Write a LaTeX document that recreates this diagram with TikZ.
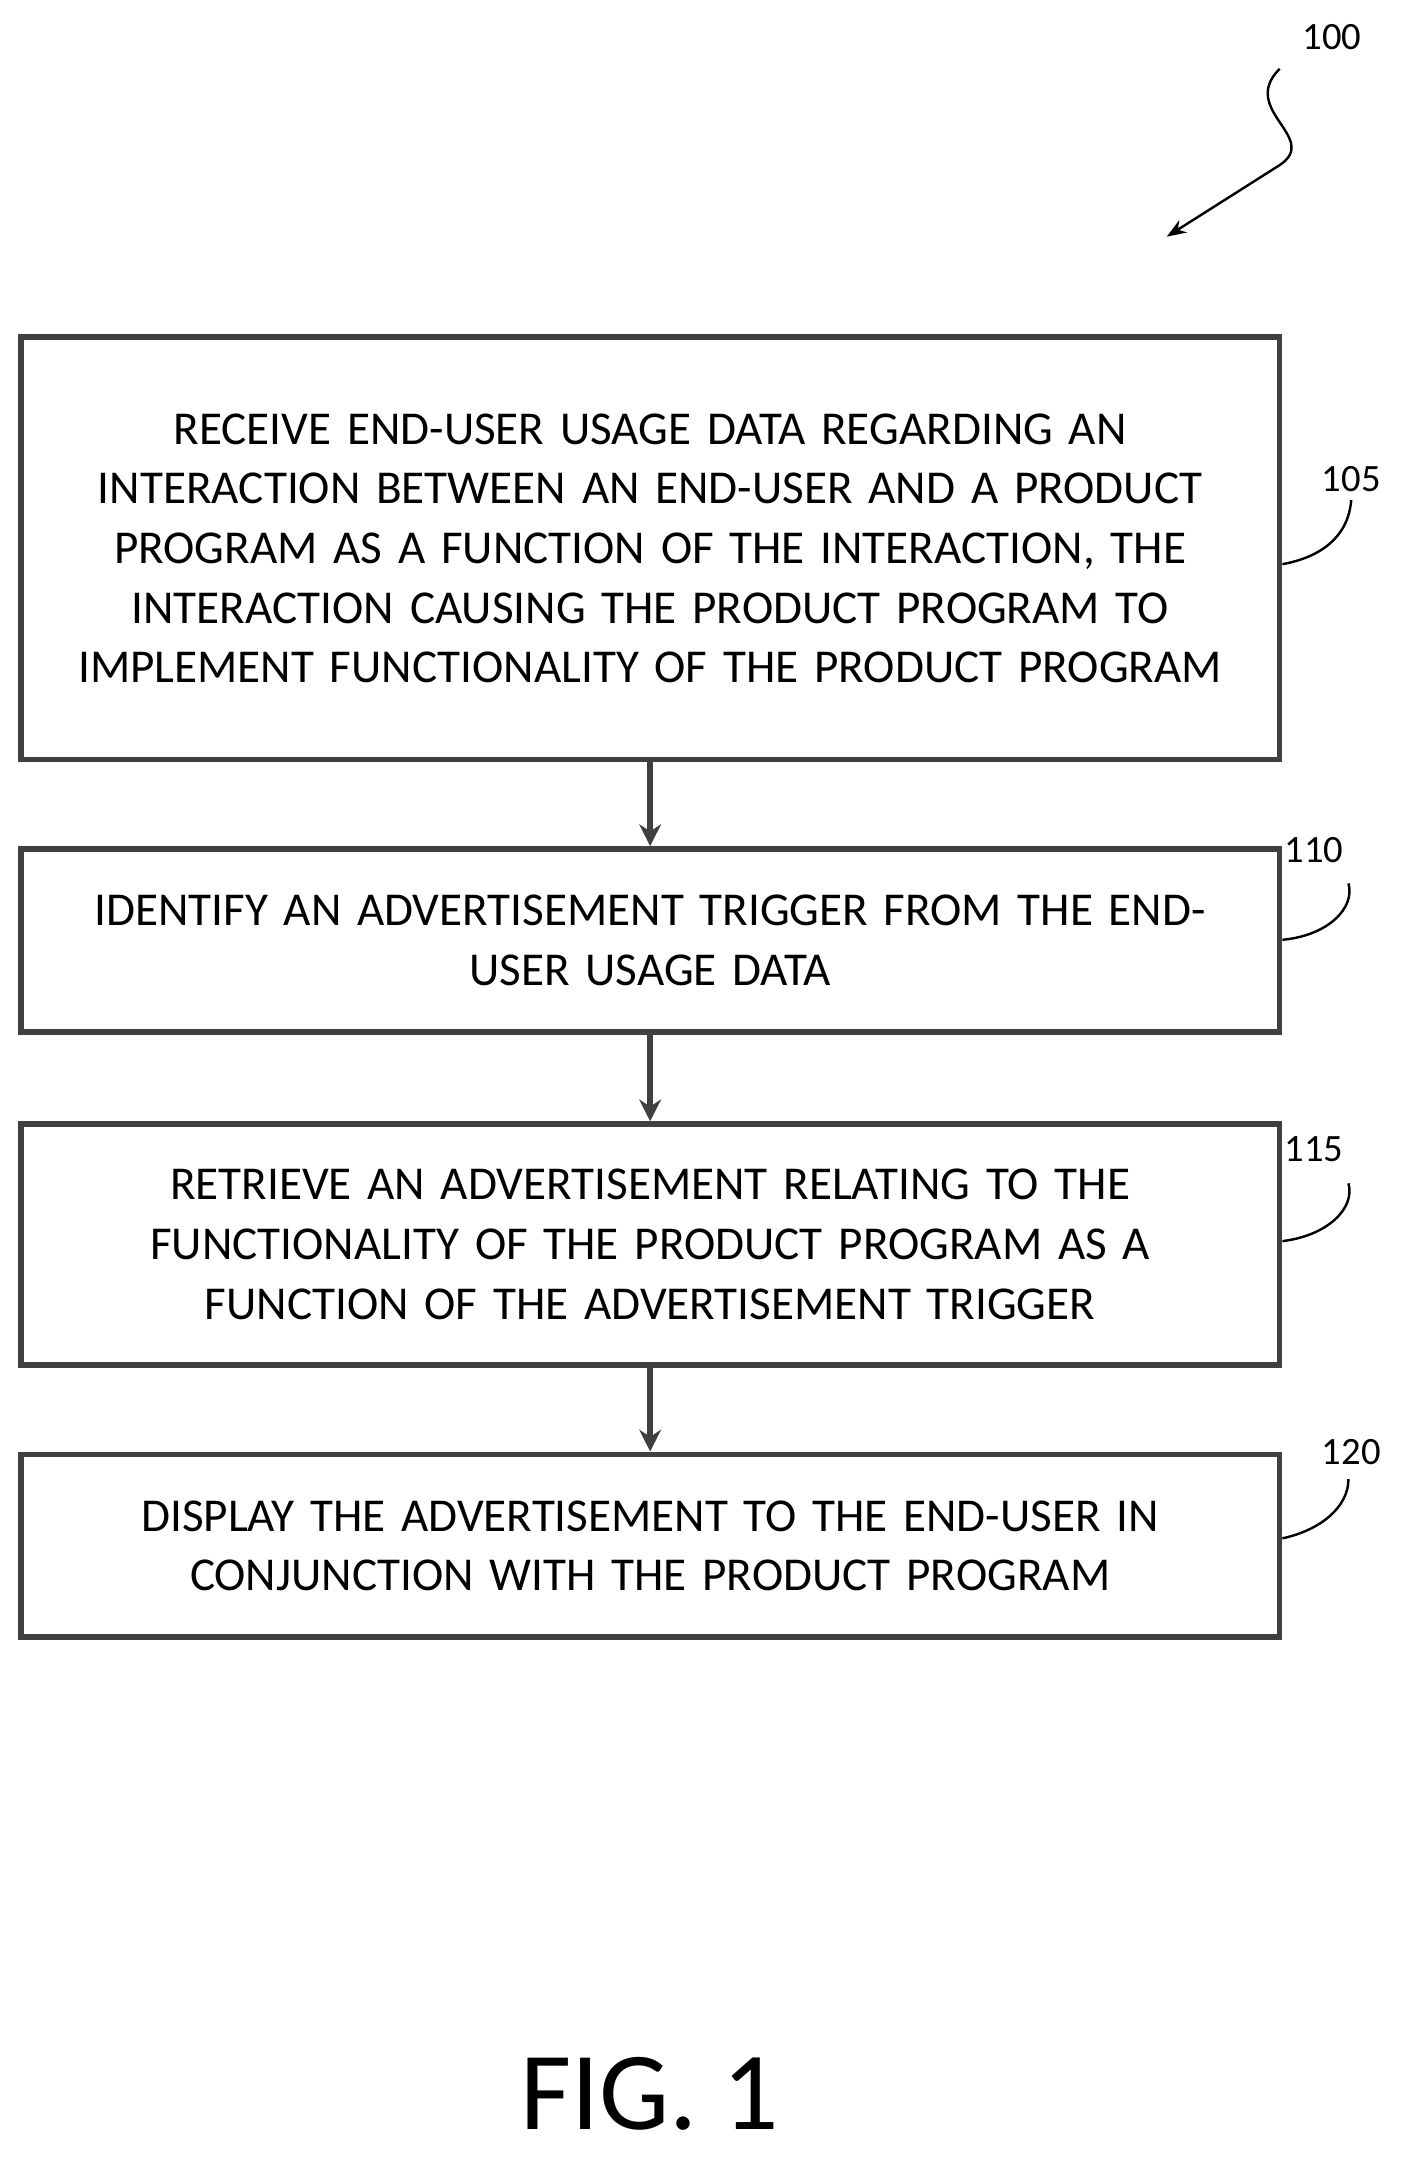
\documentclass[tikz,border=0pt]{standalone}
\usepackage{fontspec}
\setmainfont{Carlito}
\usetikzlibrary{arrows.meta,decorations.pathmorphing}
\begin{document}
\begin{tikzpicture}[x=0.02cm,y=-0.02cm,
  box/.style={draw=black!75,line width=2.4pt,inner sep=0pt,align=center,text width=17.9cm,minimum width=18.3cm,font=\fontsize{19.5}{24.7}\selectfont},
  lbl/.style={font=\fontsize{16}{18}\selectfont},
  arr/.style={-{Stealth[length=9pt,width=9pt]},line width=2.4pt,draw=black!75},
  lead/.style={line width=1pt}]
\useasboundingbox (0,0) rectangle (1024,1572);
\node[box,minimum height=6.14cm] (b1) at (472.5,398.5) {RECEIVE END-USER USAGE DATA REGARDING AN\\INTERACTION BETWEEN AN END-USER AND A PRODUCT\\PROGRAM AS A FUNCTION OF THE INTERACTION, THE\\INTERACTION CAUSING THE PRODUCT PROGRAM TO\\IMPLEMENT FUNCTIONALITY OF THE PRODUCT PROGRAM};
\node[box,minimum height=2.66cm] (b2) at (472.5,683.5) {IDENTIFY AN ADVERTISEMENT TRIGGER FROM THE END-\\USER USAGE DATA};
\node[box,minimum height=3.5cm] (b3) at (472.5,904.5) {RETRIEVE AN ADVERTISEMENT RELATING TO THE\\FUNCTIONALITY OF THE PRODUCT PROGRAM AS A\\FUNCTION OF THE ADVERTISEMENT TRIGGER};
\node[box,minimum height=2.66cm] (b4) at (472.5,1123.5) {DISPLAY THE ADVERTISEMENT TO THE END-USER IN\\CONJUNCTION WITH THE PRODUCT PROGRAM};
\draw[arr] (b1.south) -- (b2.north);
\draw[arr] (b2.south) -- (b3.north);
\draw[arr] (b3.south) -- (b4.north);
\node[lbl] (l100) at (968,27) {100};
\node[lbl] (l105) at (982,348) {105};
\node[lbl] (l110) at (955,618) {110};
\node[lbl] (l115) at (955,835) {115};
\node[lbl] (l120) at (982,1055) {120};
\coordinate (a100) at (848,172);
\draw[lead,-{Stealth[length=8pt]}] (930,50) .. controls (900,80) and (960,100) .. (930,120) -- (a100);
\draw[lead] (b1.east|-0,410) .. controls (960,405) and (980,390) .. (l105.south);
\draw[lead] (b2.east|-0,683) .. controls (965,680) and (985,660) .. (980,642);
\draw[lead] (b3.east|-0,902) .. controls (965,898) and (985,878) .. (980,860);
\draw[lead] (b4.east|-0,1118) .. controls (960,1112) and (980,1095) .. (980,1075);
\node[font=\fontsize{46}{52}\selectfont] (fig) at (472,1522) {FIG. 1};
\end{tikzpicture}
\end{document}
